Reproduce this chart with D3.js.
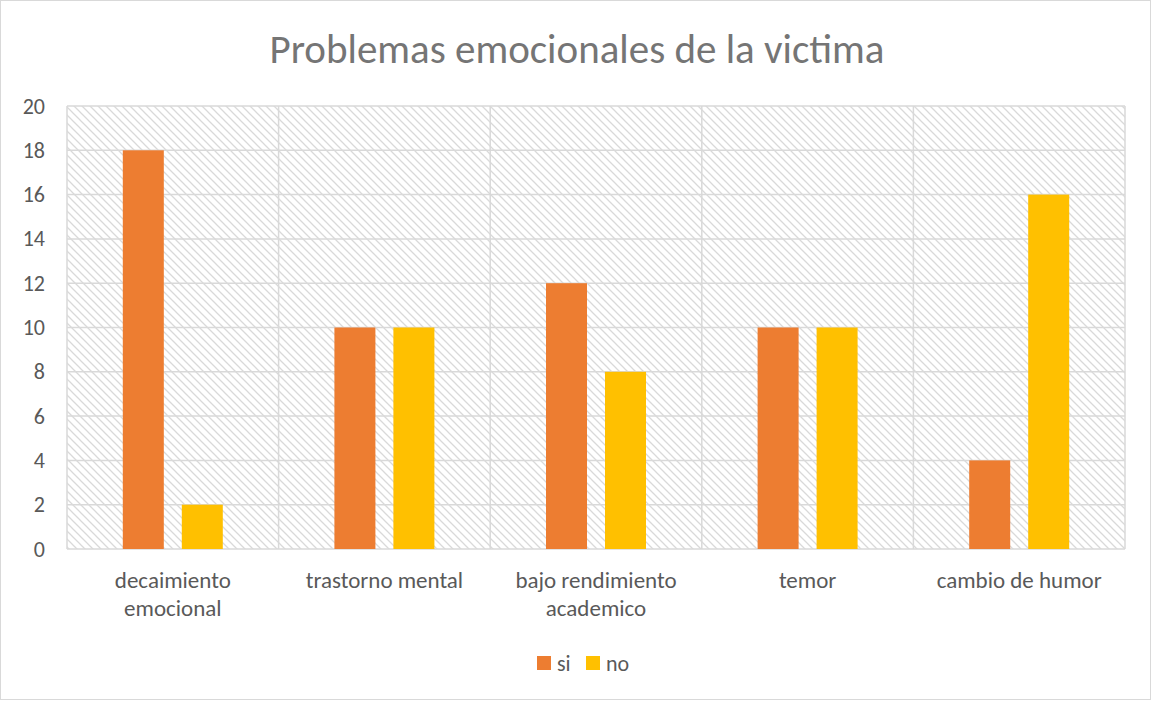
<!DOCTYPE html>
<html>
<head>
<meta charset="utf-8">
<script src="https://cdn.jsdelivr.net/npm/d3@7"></script>
<style>
  body { margin: 0; background: #fff; }
  svg { display: block; font-family: Carlito, Calibri, "Open Sans", sans-serif; }
</style>
</head>
<body>
<svg id="chart"></svg>
<script>
const categories = [
    ["decaimiento", "emocional"],
    ["trastorno mental"],
    ["bajo rendimiento", "academico"],
    ["temor"],
    ["cambio de humor"]
];
const seriesNames = ["si", "no"];
const siValues = [18, 10, 12, 10, 4];
const noValues = [2, 10, 8, 10, 16];
const yTicks = [0, 2, 4, 6, 8, 10, 12, 14, 16, 18, 20];

const width = 1154;
const height = 702;
const margin = {top: 106, right: 29, bottom: 153, left: 67};
const colors = {si: "#ed7d31", no: "#ffc000"};

const svg = d3.select("#chart")
                .attr("width", width)
                .attr("height", height);

// outer chart border
svg.append("rect")
    .attr("x", 0.5).attr("y", 0.5)
    .attr("width", width - 4).attr("height", height - 3)
    .attr("fill", "#fff")
    .attr("stroke", "#d9d9d9");

// hatch pattern for the plot area
const pattern = svg.append("defs").append("pattern")
    .attr("id", "hatch")
    .attr("patternUnits", "userSpaceOnUse")
    .attr("width", 8).attr("height", 8);
pattern.append("path")
    .attr("d", "M-2,-2 L10,10 M-2,6 L2,10 M6,-2 L10,2")
    .attr("stroke", "#d9d9d9")
    .attr("stroke-width", 1.3);

const x0 = d3.scaleBand()
    .domain(d3.range(categories.length))
    .range([margin.left, width - margin.right]);

const x1 = d3.scaleBand()
    .domain(seriesNames)
    .range([0, x0.bandwidth()])
    .paddingInner(0.305)
    .paddingOuter(0.946);

const y = d3.scaleLinear()
    .domain([0, 20])
    .range([height - margin.bottom, margin.top]);

svg.append("rect")
    .attr("x", margin.left).attr("y", margin.top)
    .attr("width", width - margin.left - margin.right)
    .attr("height", height - margin.top - margin.bottom)
    .attr("fill", "url(#hatch)");

// horizontal gridlines
svg.append("g")
    .selectAll("line")
    .data(yTicks)
    .enter()
    .append("line")
    .attr("x1", margin.left).attr("x2", width - margin.right)
    .attr("y1", d => y(d)).attr("y2", d => y(d))
    .attr("stroke", "#d9d9d9")
    .attr("stroke-width", 1.5);

// vertical gridlines between categories
const bounds = d3.range(categories.length + 1).map(i => margin.left + i * x0.step());
svg.append("g")
    .selectAll("line")
    .data(bounds)
    .enter()
    .append("line")
    .attr("x1", d => d).attr("x2", d => d)
    .attr("y1", margin.top).attr("y2", height - margin.bottom)
    .attr("stroke", "#d9d9d9")
    .attr("stroke-width", 1.5);

// bars
const rows = categories.map((c, i) => ({i, si: siValues[i], no: noValues[i]}));
const groups = svg.append("g")
    .selectAll("g")
    .data(rows)
    .enter()
    .append("g")
    .attr("transform", d => `translate(${x0(d.i)},0)`);

groups.selectAll("rect")
    .data(d => seriesNames.map(k => ({key: k, value: d[k]})))
    .enter()
    .append("rect")
    .attr("x", d => x1(d.key))
    .attr("y", d => y(d.value))
    .attr("width", x1.bandwidth())
    .attr("height", d => y(0) - y(d.value))
    .attr("fill", d => colors[d.key]);

// y axis labels
const yAxis = d3.axisLeft(y).tickValues(yTicks).tickSize(0).tickPadding(22);
const yg = svg.append("g")
    .attr("transform", `translate(${margin.left},0)`)
    .call(yAxis);
yg.select(".domain").remove();
yg.selectAll("text")
    .attr("fill", "#595959")
    .attr("font-size", 22)
    .attr("font-family", "Carlito, Calibri, 'Open Sans', sans-serif");

// category labels
const catLabels = svg.append("g")
    .selectAll("text")
    .data(categories)
    .enter()
    .append("text")
    .attr("x", (d, i) => x0(i) + x0.bandwidth() / 2)
    .attr("y", y(0) + 39)
    .attr("text-anchor", "middle")
    .attr("fill", "#595959")
    .attr("font-size", 23);
catLabels.selectAll("tspan")
    .data(d => d)
    .enter()
    .append("tspan")
    .attr("x", function() { return this.parentNode.getAttribute("x"); })
    .attr("dy", (d, i) => i === 0 ? 0 : 28)
    .text(d => d);

// title
svg.append("text")
    .attr("x", width / 2)
    .attr("y", 63)
    .attr("text-anchor", "middle")
    .attr("fill", "#757575")
    .attr("font-size", 41)
    .text("Problemas emocionales de la victima");

// legend
const legend = svg.append("g")
    .attr("transform", "translate(537,656)");
const legendItems = legend.selectAll("g")
    .data(seriesNames)
    .enter()
    .append("g")
    .attr("transform", (d, i) => `translate(${i * 49},0)`);
legendItems.append("rect")
    .attr("width", 14).attr("height", 14)
    .attr("fill", d => colors[d]);
legendItems.append("text")
    .attr("x", 20).attr("y", 15)
    .attr("fill", "#595959")
    .attr("font-size", 22)
    .text(d => d);
</script>
</body>
</html>
